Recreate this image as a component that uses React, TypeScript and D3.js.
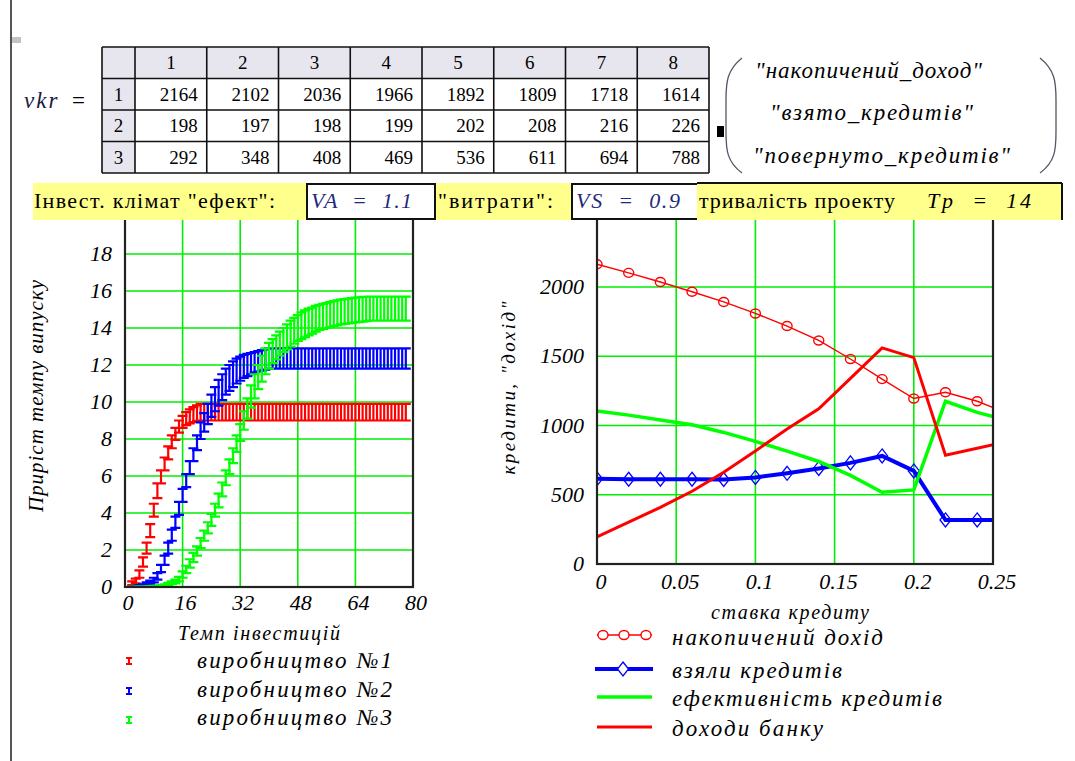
import React from 'react';
import * as d3 from 'd3';

// ---- matrix vkr ----
const TABLE_COLS = ['1', '2', '3', '4', '5', '6', '7', '8'];
const TABLE_ROWS = ['1', '2', '3'];
const VKR_ROW1 = [2164, 2102, 2036, 1966, 1892, 1809, 1718, 1614];
const VKR_ROW2 = [198, 197, 198, 199, 202, 208, 216, 226];
const VKR_ROW3 = [292, 348, 408, 469, 536, 611, 694, 788];
const VECTOR_LABELS = ['"накопичений_доход"', '"взято_кредитів"', '"повернуто_кредитів"'];

// ---- production growth vs. investment rate (error traces: low / high) ----
const INVEST_RATE = [
  2, 3, 4, 5, 6, 7, 8, 9, 10, 11, 12, 13, 14, 15, 16, 17, 18, 19, 20, 21,
  22, 23, 24, 25, 26, 27, 28, 29, 30, 31, 32, 33, 34, 35, 36, 37, 38, 39, 40, 41,
  42, 43, 44, 45, 46, 47, 48, 49, 50, 51, 52, 53, 54, 55, 56, 57, 58, 59, 60, 61,
  62, 63, 64, 65, 66, 67, 68, 69, 70, 71, 72, 73, 74, 75, 76, 77, 78,
];
const PROD1_LO = [
  0.1, 0.2, 0.5, 1.1, 1.8, 2.7, 3.8, 4.8, 5.6, 6.3, 6.9, 7.5, 7.95, 8.35, 8.6, 8.75, 8.85, 8.92, 8.97,
  9, 9, 9, 9, 9, 9, 9, 9, 9, 9, 9, 9, 9, 9, 9, 9, 9, 9, 9, 9,
  9, 9, 9, 9, 9, 9, 9, 9, 9, 9, 9, 9, 9, 9, 9, 9, 9, 9, 9, 9,
  9, 9, 9, 9, 9, 9, 9, 9, 9, 9, 9, 9, 9, 9, 9, 9, 9, 9,
];
const PROD1_HI = [
  0.3, 0.45, 0.9, 1.6, 2.4, 3.4, 4.5, 5.6, 6.3, 7.0, 7.6, 8.2, 8.6, 9.0, 9.25, 9.45, 9.6, 9.72, 9.82,
  9.9, 9.9, 9.9, 9.9, 9.9, 9.9, 9.9, 9.9, 9.9, 9.9, 9.9, 9.9, 9.9, 9.9, 9.9, 9.9, 9.9, 9.9, 9.9, 9.9,
  9.9, 9.9, 9.9, 9.9, 9.9, 9.9, 9.9, 9.9, 9.9, 9.9, 9.9, 9.9, 9.9, 9.9, 9.9, 9.9, 9.9, 9.9, 9.9, 9.9,
  9.9, 9.9, 9.9, 9.9, 9.9, 9.9, 9.9, 9.9, 9.9, 9.9, 9.9, 9.9, 9.9, 9.9, 9.9, 9.9, 9.9, 9.9,
];
const PROD2_LO = [
  0, 0, 0.02, 0.05, 0.1, 0.15, 0.25, 0.4, 0.8, 1.2, 1.8, 2.5, 3.2, 3.9, 4.6, 5.4, 6.1, 6.8, 7.4, 8.0,
  8.4, 8.8, 9.2, 9.5, 9.8, 10.1, 10.4, 10.6, 10.8, 11.0, 11.15, 11.3, 11.4, 11.5, 11.6, 11.65, 11.7, 11.75,
  11.8, 11.8, 11.8, 11.8, 11.8, 11.8, 11.8, 11.8, 11.8, 11.8, 11.8, 11.8, 11.8, 11.8, 11.8, 11.8, 11.8, 11.8, 11.8, 11.8,
  11.8, 11.8, 11.8, 11.8, 11.8, 11.8, 11.8, 11.8, 11.8, 11.8, 11.8, 11.8, 11.8, 11.8, 11.8, 11.8, 11.8, 11.8, 11.8,
];
const PROD2_HI = [
  0.04, 0.05, 0.1, 0.15, 0.25, 0.35, 0.5, 0.75, 1.2, 1.7, 2.4, 3.1, 3.8, 4.6, 5.3, 6.1, 6.8, 7.5, 8.2, 8.9,
  9.4, 9.9, 10.4, 10.8, 11.2, 11.5, 11.8, 12.0, 12.2, 12.35, 12.45, 12.55, 12.6, 12.65, 12.7, 12.75, 12.8, 12.85,
  12.9, 12.9, 12.9, 12.9, 12.9, 12.9, 12.9, 12.9, 12.9, 12.9, 12.9, 12.9, 12.9, 12.9, 12.9, 12.9, 12.9, 12.9, 12.9, 12.9,
  12.9, 12.9, 12.9, 12.9, 12.9, 12.9, 12.9, 12.9, 12.9, 12.9, 12.9, 12.9, 12.9, 12.9, 12.9, 12.9, 12.9, 12.9, 12.9,
];
const PROD3_LO = [
  0, 0, 0, 0, 0, 0.01, 0.01, 0.02, 0.03, 0.05,
  0.1, 0.15, 0.2, 0.3, 0.5, 0.75, 1.05, 1.35, 1.7, 2.1,
  2.5, 2.9, 3.3, 3.8, 4.3, 4.9, 5.5, 6.1, 6.7, 7.3,
  7.9, 8.5, 9.1, 9.7, 10.2, 10.7, 11.1, 11.5, 11.8, 12.1,
  12.3, 12.5, 12.7, 12.85, 13.0, 13.15, 13.3, 13.4, 13.5, 13.6,
  13.7, 13.8, 13.9, 13.95, 14.0, 14.05, 14.1, 14.15, 14.2, 14.22,
  14.25, 14.28, 14.3, 14.32, 14.34, 14.37,
  14.4, 14.4, 14.4, 14.4, 14.4, 14.4, 14.4, 14.4, 14.4, 14.4, 14.4,
];
const PROD3_HI = [
  0.02, 0.02, 0.03, 0.03, 0.04, 0.05, 0.06, 0.08, 0.1, 0.15,
  0.22, 0.3, 0.4, 0.55, 0.85, 1.15, 1.5, 1.85, 2.2, 2.65,
  3.05, 3.5, 3.95, 4.5, 5.05, 5.65, 6.3, 6.9, 7.5, 8.2,
  8.8, 9.5, 10.2, 10.9, 11.5, 12.0, 12.5, 12.9, 13.2, 13.4,
  13.6, 13.8, 14.0, 14.2, 14.4, 14.55, 14.7, 14.85, 14.95, 15.05,
  15.1, 15.2, 15.25, 15.3, 15.35, 15.4, 15.45, 15.5, 15.53, 15.56,
  15.59, 15.62, 15.64, 15.66, 15.68, 15.69,
  15.7, 15.7, 15.7, 15.7, 15.7, 15.7, 15.7, 15.7, 15.7, 15.7, 15.7,
];
const PROD_X_TICKS = [0, 16, 32, 48, 64, 80];
const PROD_Y_TICKS = [0, 2, 4, 6, 8, 10, 12, 14, 16, 18];
const PROD_NAMES = ['виробництво №1', 'виробництво №2', 'виробництво №3'];

// ---- credit rate chart ----
const CREDIT_RATE = [0, 0.02, 0.04, 0.06, 0.08, 0.1, 0.12, 0.14, 0.16, 0.18, 0.2, 0.22, 0.24, 0.26];
const ACCUM_INCOME = [2164, 2102, 2036, 1966, 1892, 1809, 1718, 1614, 1480, 1335, 1195, 1240, 1175, 1085];
const CREDITS_TAKEN = [615, 612, 612, 612, 610, 625, 655, 690, 730, 780, 672, 318, 318, 318];
const CREDIT_EFFICIENCY = [1105, 1075, 1040, 1005, 950, 885, 815, 740, 640, 518, 535, 1175, 1095, 1035];
const BANK_INCOME = [195, 302, 409, 525, 662, 816, 975, 1120, 1340, 1560, 1490, 786, 836, 886];
const CREDIT_X_TICKS = [0, 0.05, 0.1, 0.15, 0.2, 0.25];
const CREDIT_Y_TICKS = [0, 500, 1000, 1500, 2000];
const CREDIT_NAMES = ['накопичений дохід', 'взяли кредитів', 'ефективність кредитів', 'доходи банку'];

const GRID = '#00ee00';
const RED = '#ff0000';
const BLUE = '#0000ff';
const GREEN = '#00ff00';
const NAVY = '#1f2a7a';
const FACE = 'Liberation Serif';

// Times-like face for every label
function T(props: any) {
  const { italic, children, ...rest } = props;
  return (
    <text
      {...rest}
      style={{ fontFamily: `'${FACE}'`, fontStyle: italic ? 'italic' : 'normal' }}
    >
      {children}
    </text>
  );
}

function errorBars(xs: number[], lo: number[], hi: number[], sx: any, sy: any, cap: number) {
  return xs
    .map((x, i) => {
      const X = sx(x);
      const a = sy(lo[i]);
      const b = sy(hi[i]);
      return `M${X},${a}V${b}M${X - cap},${a}H${X + cap}M${X - cap},${b}H${X + cap}`;
    })
    .join('');
}

export default function App() {
  const W = 1075;
  const H = 761;

  // production chart
  const px = d3.scaleLinear().domain([0, 80]).range([125, 413]);
  const py = d3.scaleLinear().domain([0, 20]).range([587, 217]);
  // credit chart
  const cx = d3.scaleLinear().domain([0, 0.25]).range([597, 993]);
  const cy = d3.scaleLinear().domain([0, 2500]).range([564, 217.75]);

  const line = (ys: number[]) =>
    d3.line<number>().x((_, i) => cx(CREDIT_RATE[i])).y((v) => cy(v))(ys) || '';

  // table geometry
  const colX = d3.scaleBand<string>().domain(TABLE_COLS).range([135, 709]);
  const rowY = d3.scaleBand<string>().domain(['h', ...TABLE_ROWS]).range([47, 173]);
  const rows = [VKR_ROW1, VKR_ROW2, VKR_ROW3];

  const prodSeries = [
    { lo: PROD1_LO, hi: PROD1_HI, color: RED },
    { lo: PROD2_LO, hi: PROD2_HI, color: BLUE },
    { lo: PROD3_LO, hi: PROD3_HI, color: GREEN },
  ];

  const diamond = (x: number, y: number) => `M${x},${y - 7}L${x + 5.5},${y}L${x},${y + 7}L${x - 5.5},${y}Z`;

  const vectorPlacement = [
    { x: 755, y: 78, len: 227 },
    { x: 770, y: 120, len: 203 },
    { x: 753, y: 163, len: 257 },
  ];
  const creditLegend = [
    { base: 645, len: 211 },
    { base: 678, len: 170 },
    { base: 706, len: 270 },
    { base: 736, len: 151 },
  ];

  return (
    <svg width={W} height={H} style={{ position: 'absolute', left: 0, top: 0, background: '#fff' }}>
      <style>{`text { font-family: '${FACE}', serif !important; }`}</style>
      <defs>
        <clipPath id="prodClip">
          <rect x={125} y={215} width={288} height={372} />
        </clipPath>
        <clipPath id="creditClip">
          <rect x={597} y={215} width={396} height={349} />
        </clipPath>
      </defs>

      {/* worksheet margin */}
      <line x1={11} y1={0} x2={11} y2={H} stroke="#555" strokeWidth={2} />
      <rect x={12} y={37} width={9} height={6} fill="#c4c4c4" />

      {/* vkr = matrix */}
      <T x={24} y={108} fontSize={23} italic letterSpacing={2} fill="#1a1a40">vkr</T>
      <T x={72} y={108} fontSize={23}>=</T>
      <rect x={102} y={47} width={607} height={31.5} fill="#e7e5ee" />
      <rect x={102} y={47} width={33} height={126} fill="#e7e5ee" />
      {colX.domain().map((c) => (
        <T key={'h' + c} x={colX(c)! + colX.bandwidth() / 2} y={rowY('h')! + 22} fontSize={19} textAnchor="middle">
          {c}
        </T>
      ))}
      {TABLE_ROWS.map((r, ri) => (
        <g key={'r' + r}>
          <T x={118.5} y={rowY(r)! + 22} fontSize={19} textAnchor="middle">{r}</T>
          {rows[ri].map((v, ci) => (
            <T key={ci} x={colX(TABLE_COLS[ci])! + colX.bandwidth() - 9} y={rowY(r)! + 22} fontSize={19} textAnchor="end">
              {v}
            </T>
          ))}
        </g>
      ))}
      {[102, 135, ...TABLE_COLS.map((c) => colX(c)! + colX.bandwidth())].map((x, i) => (
        <line key={'vx' + i} x1={x} y1={47} x2={x} y2={173} stroke="#111" strokeWidth={1.6} />
      ))}
      {['h', ...TABLE_ROWS].map((r, i) => (
        <line key={'hy' + i} x1={102} y1={rowY(r)!} x2={709} y2={rowY(r)!} stroke="#111" strokeWidth={1.6} />
      ))}
      <line x1={102} y1={173} x2={709} y2={173} stroke="#111" strokeWidth={1.6} />
      <rect x={717} y={126} width={7} height={11} fill="#000" />

      {/* string vector */}
      <path d="M742,58 C727,70 726,82 726,100 L726,132 C726,150 727,162 742,173" fill="none" stroke="#556" strokeWidth={1.3} />
      <path d="M1040,58 C1055,70 1056,82 1056,100 L1056,132 C1056,150 1055,162 1040,173" fill="none" stroke="#556" strokeWidth={1.3} />
      {VECTOR_LABELS.map((s, i) => (
        <T key={s} x={vectorPlacement[i].x} y={vectorPlacement[i].y} fontSize={23} italic textLength={vectorPlacement[i].len}>
          {s}
        </T>
      ))}

      {/* ===== production chart ===== */}
      <g>
        {PROD_X_TICKS.filter((t) => t > 0 && t < 80).map((t) => (
          <line key={'pgx' + t} x1={px(t)} x2={px(t)} y1={215} y2={587} stroke={GRID} strokeWidth={1.6} />
        ))}
        {PROD_Y_TICKS.filter((t) => t > 0).map((t) => (
          <line key={'pgy' + t} x1={125} x2={413} y1={py(t)} y2={py(t)} stroke={GRID} strokeWidth={1.6} />
        ))}
        <g clipPath="url(#prodClip)">
          {prodSeries.map((s, i) => (
            <path
              key={'ps' + i}
              d={errorBars(INVEST_RATE, s.lo, s.hi, px, py, 5)}
              fill="none"
              stroke={s.color}
              strokeWidth={2.2}
            />
          ))}
        </g>
        <rect x={125} y={215} width={288} height={372} fill="none" stroke="#222" strokeWidth={2.2} />
        {PROD_Y_TICKS.map((t) => (
          <T key={'pty' + t} x={112} y={py(t) + 7} fontSize={22} italic textAnchor="end">
            {t}
          </T>
        ))}
        {PROD_X_TICKS.map((t) => (
          <T key={'ptx' + t} x={px(t) + 3} y={610} fontSize={22} italic textAnchor="middle">
            {t}
          </T>
        ))}
        <T x={178} y={640} fontSize={20} italic textLength={162}>Темп інвестицій</T>
        <T transform="translate(43,396) rotate(-90)" fontSize={21} italic textAnchor="middle" textLength={232}>
          Приріст темпу випуску
        </T>
        {prodSeries.map((s, i) => {
          const y = [661, 691, 720][i];
          return (
            <g key={'pl' + i}>
              <path d={`M129,${y - 3}V${y + 3}M126,${y - 3}H132M126,${y + 3}H132`} stroke={s.color} strokeWidth={2} fill="none" />
              <T x={197} y={[668, 696.5, 725][i]} fontSize={23} italic textLength={195}>{PROD_NAMES[i]}</T>
            </g>
          );
        })}
      </g>

      {/* ===== credit chart ===== */}
      <g>
        {CREDIT_X_TICKS.filter((t) => t > 0 && t < 0.25).map((t) => (
          <line key={'cgx' + t} x1={cx(t)} x2={cx(t)} y1={215} y2={564} stroke={GRID} strokeWidth={1.6} />
        ))}
        {CREDIT_Y_TICKS.filter((t) => t > 0).map((t) => (
          <line key={'cgy' + t} x1={597} x2={993} y1={cy(t)} y2={cy(t)} stroke={GRID} strokeWidth={1.6} />
        ))}
        <g clipPath="url(#creditClip)">
          <path d={line(ACCUM_INCOME)} fill="none" stroke={RED} strokeWidth={1.4} />
          {ACCUM_INCOME.map((v, i) => (
            <ellipse key={'ai' + i} cx={cx(CREDIT_RATE[i])} cy={cy(v)} rx={5} ry={4.5} fill="none" stroke={RED} strokeWidth={1.4} />
          ))}
          <path d={line(CREDITS_TAKEN)} fill="none" stroke={BLUE} strokeWidth={4} />
          {CREDITS_TAKEN.map((v, i) => (
            <path key={'ct' + i} d={diamond(cx(CREDIT_RATE[i]), cy(v))} fill="none" stroke={BLUE} strokeWidth={1.3} />
          ))}
          <path d={line(CREDIT_EFFICIENCY)} fill="none" stroke={GREEN} strokeWidth={3.5} />
          <path d={line(BANK_INCOME)} fill="none" stroke={RED} strokeWidth={3} />
        </g>
        <rect x={597} y={215} width={396} height={349} fill="none" stroke="#222" strokeWidth={2.2} />
        {CREDIT_Y_TICKS.map((t) => (
          <T key={'cty' + t} x={584} y={cy(t) + 7} fontSize={22} italic textAnchor="end">
            {t}
          </T>
        ))}
        {CREDIT_X_TICKS.map((t) => (
          <T key={'ctx' + t} x={cx(t) + 4} y={589} fontSize={22} italic textAnchor="middle">
            {String(t)}
          </T>
        ))}
        <T x={711} y={619} fontSize={20} italic textLength={158}>ставка кредиту</T>
        <T transform="translate(515,388) rotate(-90)" fontSize={19} italic textAnchor="middle" textLength={173}>
          кредити,  "дохід"
        </T>

        {/* legend */}
        <g>
          <line x1={597} x2={652} y1={635} y2={635} stroke={RED} strokeWidth={1.4} />
          {[603, 624, 646].map((x) => (
            <ellipse key={'le' + x} cx={x} cy={635} rx={5} ry={4.5} fill="#fff" stroke={RED} strokeWidth={1.4} />
          ))}
          <line x1={595} x2={653} y1={669} y2={669} stroke={BLUE} strokeWidth={4} />
          <path d={diamond(623, 669)} fill="#fff" stroke={BLUE} strokeWidth={1.3} />
          <line x1={597} x2={652} y1={697} y2={697} stroke={GREEN} strokeWidth={3.5} />
          <line x1={597} x2={652} y1={727} y2={727} stroke={RED} strokeWidth={3} />
          {CREDIT_NAMES.map((n, i) => (
            <T key={n} x={672} y={creditLegend[i].base} fontSize={23} italic textLength={creditLegend[i].len}>
              {n}
            </T>
          ))}
        </g>
      </g>

      {/* ===== parameter strip ===== */}
      <rect x={33} y={183} width={1029} height={37} fill="#ffff8c" />
      <line x1={697} y1={183} x2={1062} y2={183} stroke="#111" strokeWidth={2} />
      <line x1={1062} y1={183} x2={1062} y2={220} stroke="#111" strokeWidth={2} />
      <T x={34} y={208} fontSize={22} textLength={241}>Інвест. клімат "ефект":</T>
      <rect x={307} y={184} width={128} height={35} fill="#fff" stroke="#111" strokeWidth={2} />
      <T x={311} y={208} fontSize={22} fill={NAVY} italic xmlSpace="preserve" textLength={101}>
        {'VA  =  1.1'}
      </T>
      <T x={438} y={208} fontSize={22} textLength={115}>"витрати":</T>
      <rect x={572} y={184} width={125} height={35} fill="#fff" />
      <path d="M697,184 H572 V219 H697" fill="none" stroke="#111" strokeWidth={2} />
      <T x={576} y={208} fontSize={22} fill={NAVY} italic xmlSpace="preserve" textLength={104}>
        {'VS  =  0.9'}
      </T>
      <T x={699} y={208} fontSize={22} textLength={196}>тривалість проекту</T>
      <T x={927} y={208} fontSize={22} italic xmlSpace="preserve" textLength={104}>
        {'Tp  =  14'}
      </T>
    </svg>
  );
}
